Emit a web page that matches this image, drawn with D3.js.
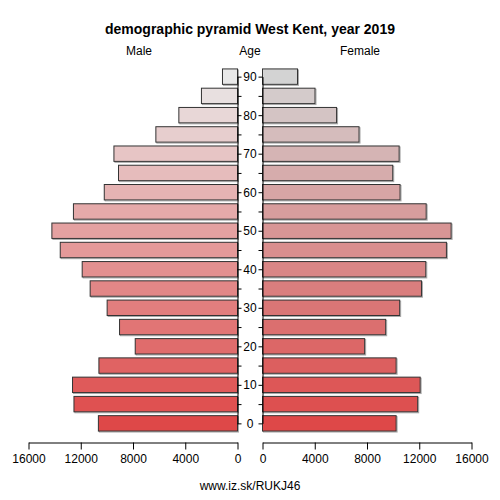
<!DOCTYPE html>
<html><head><meta charset="utf-8">
<script src="https://cdn.jsdelivr.net/npm/d3@7"></script>
<style>body{margin:0;background:#fff}text{font-family:"Liberation Sans",Arial,sans-serif}</style>
</head><body><svg id="c" width="500" height="500"></svg>
<script>
const ages = [0,5,10,15,20,25,30,35,40,45,50,55,60,65,70,75,80,85,90];
const male = [10650,12520,12630,10610,7830,9030,9980,11280,11890,13570,14210,12560,10200,9110,9460,6250,4490,2760,1150];
const female = [10230,11880,12070,10230,7820,9430,10500,12170,12500,14080,14440,12530,10530,9970,10460,7390,5670,4020,2680];
const xTicks = [0,4000,8000,12000,16000];
const title = "demographic pyramid West Kent, year 2019";
const footer = "www.iz.sk/RUKJ46";

const svg = d3.select("#c");
const xL = d3.scaleLinear().domain([0,16000]).range([237.5,28.5]);
const xR = d3.scaleLinear().domain([0,16000]).range([262.5,471.5]);
const y = d3.scaleBand().domain(ages.slice().reverse()).range([67,433]).paddingInner(0.2).paddingOuter(0.1);
const cM = d3.interpolateRgb("rgb(222,72,72)","rgb(233,233,233)");
const cF = d3.interpolateRgb("rgb(222,72,72)","rgb(211,211,211)");
const t = a => a/90;

function bars(data, x, col, left){
  const g = svg.append("g");
  data.forEach((v,i)=>{
    const a = ages[i];
    const x0 = left ? x(v) : x(0), w = Math.abs(x(v)-x(0));
    g.append("rect").attr("x",x0+1).attr("y",y(a)+1).attr("width",w).attr("height",y.bandwidth())
      .attr("fill","none").attr("stroke","#aaa").attr("stroke-width",1);
    g.append("rect").attr("x",x0).attr("y",y(a)).attr("width",w).attr("height",y.bandwidth())
      .attr("fill",col(t(a))).attr("stroke","#333").attr("stroke-width",1);
  });
}
bars(male, xL, cM, true);
bars(female, xR, cF, false);

// age axes
const yc = a => y(a)+y.bandwidth()/2;
const gl = svg.append("g").attr("transform","translate(237.5,0)")
  .call(d3.axisRight(d3.scalePoint().domain(ages).range([yc(0),yc(90)])).tickSize(4).tickSizeOuter(0)
  .tickFormat(d=> d%10===0 ? d : ""));
gl.selectAll("text").attr("x",12.5).attr("text-anchor","middle").style("font-size","12px").attr("fill","#000");
const gr = svg.append("g").attr("transform","translate(262.5,0)")
  .call(d3.axisLeft(d3.scalePoint().domain(ages).range([yc(0),yc(90)])).tickSize(4).tickSizeOuter(0).tickFormat(""));
svg.selectAll(".domain").attr("stroke","#000");

// bottom axes
[xL,xR].forEach(x=>{
  const g = svg.append("g").attr("transform","translate(0,442.5)")
    .call(d3.axisBottom(x).tickValues(xTicks).tickSize(7).tickSizeOuter(0).tickFormat(d3.format("d")));
  g.selectAll("text").style("font-size","12px").attr("dy","0.71em").attr("y",12).attr("fill","#000");
});

svg.append("text").attr("x",250).attr("y",34).attr("text-anchor","middle")
  .style("font-size","14px").style("font-weight","bold").text(title);
svg.append("text").attr("x",139).attr("y",55).attr("text-anchor","middle").style("font-size","12px").text("Male");
svg.append("text").attr("x",250).attr("y",55).attr("text-anchor","middle").style("font-size","12px").text("Age");
svg.append("text").attr("x",360).attr("y",55).attr("text-anchor","middle").style("font-size","12px").text("Female");
svg.append("text").attr("x",250).attr("y",490).attr("text-anchor","middle").style("font-size","12px").text(footer);
</script></body></html>
